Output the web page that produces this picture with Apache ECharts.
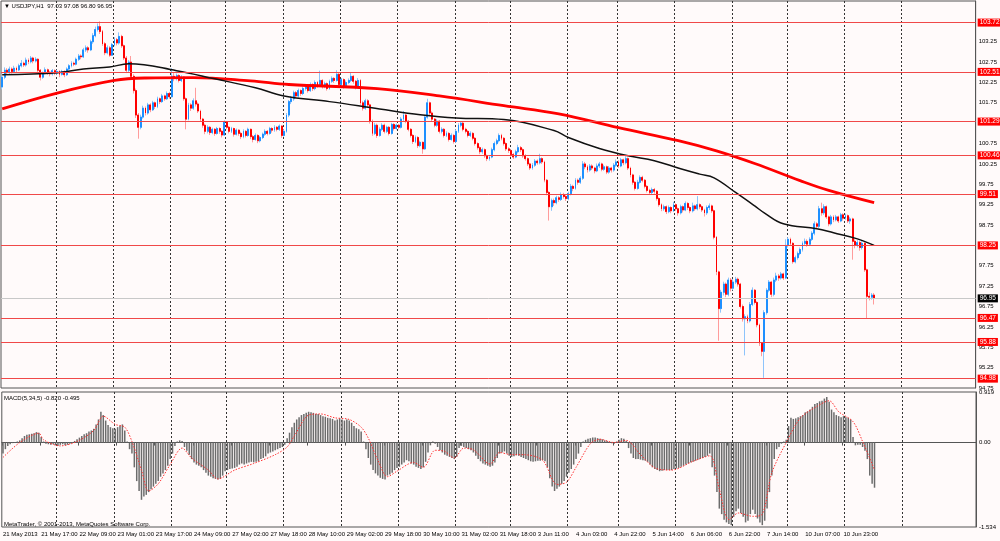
<!DOCTYPE html>
<html>
<head>
<meta charset="utf-8">
<title>USDJPY,H1</title>
<script src="https://cdn.jsdelivr.net/npm/echarts@6/dist/echarts.min.js"></script>
<style>
  html, body { margin: 0; padding: 0; background: #fffafa; }
  #chart { width: 1000px; height: 541px; }
</style>
</head>
<body>
<div id="chart"></div>
<script>
// H1 bars plus empty space on the right, like the terminal's chart shift
const totalBars = 408;

// labels every 16 bars
const tickLabels = [
  "21 May 2013", "21 May 17:00", "22 May 09:00", "23 May 01:00", "23 May 17:00",
  "24 May 09:00", "27 May 02:00", "27 May 18:00", "28 May 10:00", "29 May 02:00",
  "29 May 18:00", "30 May 10:00", "31 May 02:00", "31 May 18:00", "3 Jun 11:00",
  "4 Jun 03:00", "4 Jun 22:00", "5 Jun 14:00", "6 Jun 06:00", "6 Jun 22:00",
  "7 Jun 14:00", "10 Jun 07:00", "10 Jun 23:00"
];

// bar index of each day start (dotted separators)
const dayStarts = [23, 47, 71, 94, 118, 142, 166, 190, 213, 237, 258, 282, 306, 329, 353, 377];

// horizontal levels drawn on the chart
const levels = [103.72, 102.51, 101.29, 100.46, 99.51, 98.25, 96.47, 95.88, 94.98];
const lastPrice = 96.95;

// [open, close, low, high]
const candles = [
  // 0
  [102.14,102.38,102.08,102.42],[102.38,102.55,102.33,102.62],[102.55,102.50,102.44,102.60],[102.50,102.58,102.46,102.64],[102.58,102.52,102.47,102.62],
  [102.52,102.60,102.49,102.66],[102.60,102.56,102.50,102.64],[102.56,102.66,102.53,102.71],[102.66,102.72,102.62,102.80],[102.72,102.68,102.63,102.76],
  // 10
  [102.68,102.80,102.64,102.86],[102.80,102.76,102.70,102.84],[102.76,102.85,102.72,102.90],[102.85,102.78,102.72,102.88],[102.78,102.82,102.74,102.87],
  [102.82,102.55,102.50,102.84],[102.55,102.38,102.30,102.58],[102.38,102.48,102.34,102.52],[102.48,102.56,102.45,102.62],[102.56,102.50,102.44,102.59],
  // 20
  [102.50,102.46,102.40,102.53],[102.46,102.54,102.42,102.58],[102.54,102.48,102.43,102.57],[102.48,102.52,102.44,102.56],[102.52,102.45,102.38,102.55],
  [102.45,102.52,102.42,102.56],[102.52,102.44,102.38,102.55],[102.44,102.58,102.41,102.62],[102.58,102.66,102.55,102.70],[102.66,102.72,102.62,102.77],
  // 30
  [102.72,102.70,102.65,102.76],[102.70,102.82,102.67,102.86],[102.82,102.90,102.78,102.95],[102.90,102.88,102.82,102.94],[102.88,103.05,102.85,103.10],
  [103.05,103.10,103.00,103.16],[103.10,103.05,102.98,103.14],[103.05,103.25,103.02,103.30],[103.25,103.40,103.20,103.46],[103.40,103.55,103.36,103.62],
  // 40
  [103.55,103.62,103.50,103.70],[103.62,103.50,103.44,103.75],[103.50,103.20,103.15,103.54],[103.20,102.98,102.92,103.24],[102.98,103.10,102.94,103.16],
  [103.10,102.92,102.88,103.14],[102.92,103.18,102.90,103.22],[103.18,103.30,103.14,103.36],[103.30,103.22,103.16,103.34],[103.22,103.38,103.18,103.48],
  // 50
  [103.38,103.15,103.10,103.42],[103.15,102.85,102.80,103.18],[102.85,102.55,102.48,102.90],[102.55,102.75,102.50,102.80],[102.75,102.40,102.32,102.90],
  [102.40,102.05,101.98,102.45],[102.05,101.45,101.38,102.10],[101.45,101.15,100.87,101.50],[101.15,101.40,101.10,101.46],[101.40,101.62,101.36,101.68],
  // 60
  [101.62,101.50,101.44,101.66],[101.50,101.70,101.46,101.75],[101.70,101.58,101.52,101.74],[101.58,101.75,101.55,101.80],[101.75,101.66,101.60,101.78],
  [101.66,101.85,101.62,101.90],[101.85,101.78,101.72,101.88],[101.78,101.92,101.75,101.97],[101.92,101.85,101.80,101.95],[101.85,101.98,101.82,102.03],
  // 70
  [101.98,101.90,101.85,102.02],[101.90,102.40,101.88,102.60],[102.40,102.35,102.28,102.48],[102.35,102.42,102.30,102.47],[102.42,102.30,102.25,102.45],
  [102.30,102.38,102.26,102.43],[102.38,101.85,101.80,102.40],[101.85,101.35,101.10,101.88],[101.35,101.70,101.32,101.75],[101.70,101.62,101.55,101.74],
  // 80
  [101.62,101.80,101.58,101.86],[101.80,101.72,101.66,102.12],[101.72,101.55,101.50,101.76],[101.55,101.35,101.30,101.58],[101.35,101.20,101.14,101.38],
  [101.20,101.05,100.98,101.24],[101.05,101.15,101.00,101.20],[101.15,101.02,100.96,101.18],[101.02,101.10,100.98,101.14],[101.10,101.00,100.94,101.13],
  // 90
  [101.00,101.12,100.97,101.16],[101.12,101.05,100.99,101.15],[101.05,100.96,100.90,101.08],[100.96,101.28,100.94,101.32],[101.28,101.15,101.10,101.30],
  [101.15,101.05,101.00,101.18],[101.05,101.12,101.01,101.16],[101.12,100.98,100.92,101.14],[100.98,101.08,100.95,101.12],[101.08,101.00,100.94,101.10],
  // 100
  [101.00,100.92,100.86,101.04],[100.92,101.05,100.88,101.10],[101.05,100.95,100.90,101.08],[100.95,101.10,100.92,101.14],[101.10,100.92,100.86,101.12],
  [100.92,100.85,100.78,100.96],[100.85,100.95,100.82,101.00],[100.95,100.82,100.76,100.98],[100.82,100.90,100.78,100.94],[100.90,100.98,100.86,101.02],
  // 110
  [100.98,101.05,100.94,101.10],[101.05,101.00,100.95,101.08],[101.00,101.12,100.97,101.16],[101.12,101.08,101.02,101.15],[101.08,101.15,101.04,101.20],
  [101.15,101.10,101.05,101.18],[101.10,101.18,101.06,101.22],[101.18,100.95,100.89,101.20],[100.95,101.05,100.92,101.10],[101.05,101.45,101.02,101.50],
  // 120
  [101.45,101.78,101.40,101.82],[101.78,101.85,101.72,101.92],[101.85,102.00,101.80,102.05],[102.00,101.92,101.86,102.04],[101.92,102.05,101.88,102.10],
  [102.05,101.98,101.92,102.08],[101.98,102.10,101.94,102.15],[102.10,102.15,102.05,102.20],[102.15,102.05,102.00,102.18],[102.05,102.20,102.02,102.25],
  // 130
  [102.20,102.10,102.04,102.23],[102.10,102.25,102.06,102.30],[102.25,102.18,102.12,102.28],[102.18,102.30,102.14,102.54],[102.30,102.15,102.10,102.33],
  [102.15,102.22,102.11,102.27],[102.22,102.10,102.05,102.25],[102.10,102.28,102.07,102.32],[102.28,102.35,102.24,102.40],[102.35,102.30,102.24,102.38],
  // 140
  [102.30,102.45,102.27,102.55],[102.45,102.20,102.15,102.48],[102.20,102.32,102.17,102.36],[102.32,102.15,102.10,102.35],[102.15,102.25,102.12,102.30],
  [102.25,102.30,102.21,102.35],[102.30,102.40,102.26,102.50],[102.40,102.28,102.22,102.43],[102.28,102.15,102.08,102.31],[102.15,102.30,102.12,102.36],
  // 150
  [102.30,101.75,101.70,102.33],[101.75,101.62,101.56,101.80],[101.62,101.80,101.58,101.85],[101.80,101.70,101.64,101.84],[101.70,101.30,101.24,101.73],
  [101.30,101.00,100.94,101.34],[101.00,101.20,100.96,101.26],[101.20,100.95,100.89,101.24],[100.95,101.10,100.92,101.15],[101.10,101.20,101.06,101.25],
  // 160
  [101.20,101.05,101.00,101.24],[101.05,101.15,101.01,101.19],[101.15,101.00,100.95,101.18],[101.00,101.22,100.97,101.26],[101.22,101.12,101.07,101.25],
  [101.12,101.20,101.09,101.24],[101.20,101.15,101.10,101.23],[101.15,101.35,101.12,101.40],[101.35,101.45,101.30,101.55],[101.45,101.30,101.25,101.48],
  // 170
  [101.30,101.10,101.05,101.33],[101.10,100.95,100.90,101.13],[100.95,100.80,100.74,100.98],[100.80,100.90,100.76,100.95],[100.90,100.70,100.64,100.93],
  [100.70,100.78,100.66,100.82],[100.78,100.62,100.50,100.80],[100.62,101.40,100.60,101.45],[101.40,101.75,101.36,101.85],[101.75,101.50,101.45,101.78],
  // 180
  [101.50,101.35,101.30,101.54],[101.35,101.20,101.15,101.38],[101.20,101.30,101.16,101.35],[101.30,101.05,101.00,101.33],[101.05,101.10,101.00,101.15],
  [101.10,100.95,100.90,101.13],[100.95,101.00,100.91,101.05],[101.00,100.85,100.80,101.03],[100.85,100.95,100.82,101.00],[100.95,100.80,100.75,100.98],
  // 190
  [100.80,101.05,100.77,101.10],[101.05,101.20,101.01,101.25],[101.20,101.25,101.15,101.30],[101.25,101.10,101.05,101.28],[101.10,101.05,101.00,101.14],
  [101.05,100.95,100.90,101.08],[100.95,101.00,100.91,101.05],[101.00,100.88,100.83,101.03],[100.88,100.75,100.70,100.91],[100.75,100.65,100.60,100.78],
  // 200
  [100.65,100.55,100.49,100.68],[100.55,100.60,100.50,100.65],[100.60,100.45,100.40,100.63],[100.45,100.38,100.32,100.48],[100.38,100.42,100.33,100.47],
  [100.42,100.60,100.39,100.65],[100.60,100.75,100.56,100.80],[100.75,100.82,100.71,100.87],[100.82,100.95,100.78,101.00],[100.95,100.88,100.83,100.99],
  // 210
  [100.88,100.75,100.70,100.91],[100.75,100.62,100.57,100.78],[100.62,100.58,100.52,100.66],[100.58,100.48,100.43,100.61],[100.48,100.42,100.37,100.52],
  [100.42,100.55,100.39,100.60],[100.55,100.65,100.51,100.72],[100.65,100.60,100.54,100.69],[100.60,100.45,100.40,100.63],[100.45,100.38,100.33,100.49],
  // 220
  [100.38,100.25,100.20,100.41],[100.25,100.15,100.10,100.28],[100.15,100.22,100.11,100.27],[100.22,100.32,100.18,100.37],[100.32,100.28,100.23,100.36],
  [100.28,100.38,100.24,100.50],[100.38,100.30,100.25,100.41],[100.30,99.85,99.80,100.33],[99.85,99.55,99.48,99.88],[99.55,99.20,98.86,99.58],
  // 230
  [99.20,99.35,99.10,99.40],[99.35,99.30,99.22,99.40],[99.30,99.42,99.26,99.47],[99.42,99.38,99.32,99.46],[99.38,99.50,99.34,99.55],
  [99.50,99.45,99.40,99.54],[99.45,99.40,99.34,99.49],[99.40,99.52,99.36,99.57],[99.52,99.70,99.48,99.76],[99.70,99.65,99.58,99.74],
  // 240
  [99.65,99.85,99.62,99.90],[99.85,99.80,99.74,99.89],[99.80,99.90,99.76,99.95],[99.90,100.25,99.86,100.32],[100.25,100.18,100.12,100.30],
  [100.18,100.10,100.04,100.22],[100.10,100.20,100.06,100.25],[100.20,100.15,100.10,100.24],[100.15,100.08,100.02,100.18],[100.08,100.20,100.05,100.26],
  // 250
  [100.20,100.25,100.15,100.30],[100.25,100.12,100.07,100.28],[100.12,100.18,100.08,100.23],[100.18,100.05,100.00,100.21],[100.05,100.15,100.01,100.20],
  [100.15,100.10,100.04,100.18],[100.10,100.22,100.06,100.27],[100.22,100.30,100.18,100.36],[100.30,100.20,100.15,100.34],[100.20,100.35,100.17,100.40],
  // 260
  [100.35,100.28,100.22,100.38],[100.28,100.38,100.24,100.45],[100.38,100.15,100.10,100.41],[100.15,99.98,99.92,100.18],[99.98,99.80,99.74,100.01],
  [99.80,99.65,99.60,99.83],[99.65,99.80,99.62,99.86],[99.80,99.92,99.77,99.97],[99.92,99.85,99.80,99.96],[99.85,99.70,99.65,99.88],
  // 270
  [99.70,99.60,99.55,99.73],[99.60,99.55,99.50,99.64],[99.55,99.62,99.51,99.67],[99.62,99.58,99.52,99.66],[99.58,99.40,99.35,99.61],
  [99.40,99.25,99.20,99.43],[99.25,99.15,99.09,99.28],[99.15,99.20,99.10,99.25],[99.20,99.08,99.02,99.23],[99.08,99.18,99.04,99.23],
  // 280
  [99.18,99.10,99.04,99.21],[99.10,99.25,99.07,99.32],[99.25,99.15,99.10,99.28],[99.15,99.05,98.98,99.18],[99.05,99.20,99.01,99.25],
  [99.20,99.12,99.06,99.23],[99.12,99.28,99.09,99.33],[99.28,99.18,99.12,99.31],[99.18,99.10,99.04,99.21],[99.10,99.22,99.06,99.30],
  // 290
  [99.22,99.15,99.10,99.25],[99.15,99.25,99.11,99.46],[99.25,99.20,99.14,99.28],[99.20,99.12,99.07,99.23],[99.12,99.05,98.96,99.15],
  [99.05,99.18,99.00,99.23],[99.18,99.22,99.12,99.28],[99.22,99.10,99.05,99.25],[99.10,98.45,98.40,99.13],[98.45,97.60,97.52,98.48],
  // 300
  [97.60,96.70,95.91,97.63],[96.70,97.10,96.60,97.16],[97.10,97.30,97.02,97.36],[97.30,97.05,96.98,97.34],[97.05,97.40,97.00,97.46],
  [97.40,97.20,97.12,97.45],[97.20,97.35,97.15,97.42],[97.35,97.42,97.30,97.48],[97.42,97.30,97.24,97.46],[97.30,96.75,96.70,97.33],
  // 310
  [96.75,96.45,96.38,96.80],[96.45,96.50,95.55,96.56],[96.50,96.40,96.34,96.55],[96.40,96.80,96.36,96.86],[96.80,97.15,96.76,97.22],
  [97.15,96.85,96.80,97.18],[96.85,96.30,96.24,96.88],[96.30,95.85,95.78,96.33],[95.85,95.65,95.53,95.88],[95.65,96.60,95.00,96.66],
  // 320
  [96.60,97.15,96.55,97.20],[97.15,97.35,97.10,97.40],[97.35,97.05,96.98,97.38],[97.05,97.40,97.00,97.46],[97.40,97.50,97.35,97.58],
  [97.50,97.45,97.38,97.55],[97.45,97.55,97.41,97.60],[97.55,97.45,97.40,97.58],[97.45,98.25,97.42,98.40],[98.25,98.40,98.20,98.45],
  // 330
  [98.40,98.30,98.24,98.44],[98.30,97.85,97.80,98.33],[97.85,97.95,97.81,98.00],[97.95,98.05,97.90,98.10],[98.05,98.15,98.01,98.20],
  [98.15,98.30,98.10,98.35],[98.30,98.35,98.25,98.42],[98.35,98.28,98.22,98.40],[98.28,98.40,98.24,98.45],[98.40,98.55,98.36,98.60],
  // 340
  [98.55,98.78,98.50,98.84],[98.78,98.72,98.66,98.82],[98.72,99.15,98.68,99.22],[99.15,99.05,98.98,99.30],[99.05,99.20,99.00,99.26],
  [99.20,98.95,98.90,99.23],[98.95,98.78,98.72,98.98],[98.78,98.95,98.74,99.00],[98.95,98.88,98.82,98.99],[98.88,98.95,98.84,99.00],
  // 350
  [98.95,98.85,98.80,98.98],[98.85,99.00,98.82,99.05],[99.00,98.92,98.86,99.04],[98.92,98.98,98.88,99.03],[98.98,98.85,98.80,99.01],
  [98.85,98.90,98.78,98.95],[98.90,98.35,97.90,98.93],[98.35,98.25,98.18,98.40],[98.25,98.32,98.20,98.38],[98.32,98.20,98.12,98.36],
  // 360
  [98.20,98.30,98.15,98.35],[98.30,97.65,97.60,98.33],[97.65,97.00,96.45,97.68],[97.00,96.98,96.90,97.10],[96.98,97.03,96.92,97.08],
  [97.03,96.95,96.80,97.08]
];

// moving averages: [bar, price]
const maBlack = [
  [0,102.44],[23,102.49],[34,102.58],[45,102.63],[53,102.71],[73,102.54],[89,102.34],[106,102.12],
  [118,101.92],[137,101.78],[158,101.6],[175,101.46],[190,101.38],[210,101.34],[231,101.07],[237,100.9],
  [250,100.63],[262,100.45],[273,100.33],[284,100.13],[292,100.0],[298,99.91],[307,99.55],[315,99.22],
  [319,99.05],[327,98.78],[341,98.66],[348,98.56],[358,98.41],[365,98.25]
];
const maRed = [
  [0,101.6],[23,101.99],[47,102.3],[60,102.36],[80,102.37],[104,102.29],[120,102.2],[157,102.1],
  [183,101.92],[210,101.68],[233,101.48],[258,101.14],[283,100.82],[299,100.57],[315,100.26],[334,99.84],
  [346,99.6],[365,99.3]
];

// MACD(5,34,5) histogram, one value per bar
const macdHist = [
  -0.2,-0.12,-0.06,-0.03,-0.01,0.01,0.02,0.04,0.08,0.12,            // 0
  0.14,0.15,0.16,0.17,0.19,0.18,0.1,0.02,-0.02,-0.03,               // 10
  -0.04,-0.03,-0.05,-0.06,-0.04,-0.03,-0.05,-0.04,-0.02,0.01,       // 20
  0.03,0.06,0.09,0.12,0.15,0.17,0.2,0.22,0.25,0.33,                 // 30
  0.42,0.56,0.5,0.4,0.32,0.28,0.26,0.25,0.28,0.3,                   // 40
  0.33,0.22,0.02,-0.12,-0.2,-0.45,-0.7,-0.88,-1.04,-0.98,           // 50
  -0.95,-0.9,-0.85,-0.8,-0.75,-0.7,-0.62,-0.56,-0.5,-0.42,          // 60
  -0.3,-0.2,-0.06,0.02,0.04,0.03,-0.08,-0.15,-0.22,-0.3,            // 70
  -0.36,-0.4,-0.42,-0.45,-0.5,-0.55,-0.6,-0.62,-0.65,-0.66,         // 80
  -0.67,-0.66,-0.6,-0.52,-0.5,-0.48,-0.47,-0.46,-0.44,-0.4,         // 90
  -0.38,-0.4,-0.38,-0.36,-0.35,-0.36,-0.35,-0.34,-0.3,-0.28,        // 100
  -0.25,-0.2,-0.18,-0.16,-0.14,-0.12,-0.1,-0.08,-0.04,0.08,         // 110
  0.18,0.28,0.36,0.42,0.46,0.5,0.52,0.54,0.56,0.55,                 // 120
  0.54,0.52,0.52,0.5,0.48,0.47,0.45,0.44,0.43,0.4,                  // 130
  0.42,0.44,0.42,0.4,0.42,0.4,0.36,0.3,0.26,0.24,                   // 140
  0.2,0.02,-0.12,-0.28,-0.4,-0.5,-0.56,-0.6,-0.64,-0.66,            // 150
  -0.67,-0.6,-0.58,-0.55,-0.5,-0.46,-0.44,-0.4,-0.36,-0.32,         // 160
  -0.34,-0.38,-0.4,-0.44,-0.46,-0.48,-0.45,-0.35,-0.18,-0.05,       // 170
  0.02,-0.02,-0.08,-0.14,-0.18,-0.22,-0.24,-0.26,-0.28,-0.3,        // 180
  -0.26,-0.1,-0.06,-0.08,-0.1,-0.12,-0.14,-0.18,-0.24,-0.3,         // 190
  -0.34,-0.38,-0.4,-0.42,-0.44,-0.42,-0.36,-0.28,-0.2,-0.18,        // 200
  -0.16,-0.2,-0.24,-0.26,-0.25,-0.23,-0.24,-0.26,-0.28,-0.3,        // 210
  -0.32,-0.34,-0.35,-0.34,-0.33,-0.33,-0.32,-0.34,-0.45,-0.65,      // 220
  -0.8,-0.88,-0.84,-0.8,-0.75,-0.7,-0.62,-0.55,-0.48,-0.4,          // 230
  -0.3,-0.2,-0.08,0.02,0.05,0.07,0.08,0.09,0.09,0.08,               // 240
  0.07,0.06,0.04,0.03,0.01,-0.01,-0.02,0.02,0.05,0.08,              // 250
  0.07,0.03,-0.1,-0.2,-0.28,-0.3,-0.3,-0.31,-0.32,-0.33,            // 260
  -0.35,-0.4,-0.45,-0.48,-0.5,-0.52,-0.51,-0.5,-0.5,-0.5,           // 270
  -0.5,-0.48,-0.47,-0.46,-0.44,-0.42,-0.4,-0.38,-0.36,-0.35,        // 280
  -0.33,-0.31,-0.3,-0.28,-0.26,-0.24,-0.2,-0.45,-0.6,-0.9,          // 290
  -1.2,-1.3,-1.4,-1.45,-1.48,-1.5,-1.35,-1.25,-1.2,-1.28,           // 300
  -1.35,-1.45,-1.42,-1.3,-1.22,-1.3,-1.38,-1.45,-1.5,-1.42,         // 310
  -1.2,-0.9,-0.6,-0.3,-0.12,-0.08,-0.02,0.02,0.05,0.3,              // 320
  0.45,0.43,0.44,0.46,0.48,0.5,0.55,0.57,0.6,0.65,                  // 330
  0.7,0.72,0.75,0.76,0.8,0.83,0.74,0.6,0.55,0.5,                    // 340
  0.48,0.46,0.48,0.46,0.45,0.42,0.1,-0.05,-0.04,-0.04,              // 350
  -0.08,-0.15,-0.3,-0.6,-0.75,-0.82                                 // 360
];

// signal line: [bar, value]
const macdSignal = [
  [0,-0.27],[7,0],[15,0.17],[17,0.05],[24,-0.06],[31,0.02],[38,0.22],[42,0.48],[47,0.33],[51,0.28],
  [54,0.02],[58,-0.5],[61,-0.88],[65,-0.75],[70,-0.4],[75,-0.1],[79,-0.28],[86,-0.5],[90,-0.66],[97,-0.5],
  [105,-0.38],[114,-0.22],[119,-0.08],[122,0.12],[128,0.5],[133,0.52],[139,0.45],[145,0.42],[150,0.28],[153,0.08],
  [157,-0.32],[161,-0.62],[165,-0.52],[172,-0.36],[176,-0.45],[181,-0.14],[185,-0.16],[189,-0.28],[193,-0.1],[197,-0.13],
  [204,-0.39],[208,-0.18],[213,-0.22],[218,-0.22],[226,-0.32],[232,-0.76],[236,-0.72],[240,-0.45],[246,-0.02],[250,0.06],
  [256,0.0],[261,0.04],[267,-0.22],[273,-0.46],[280,-0.5],[289,-0.34],[296,-0.24],[300,-0.85],[304,-1.4],[308,-1.28],
  [314,-1.34],[318,-1.3],[322,-0.55],[328,0.0],[334,0.45],[341,0.66],[346,0.76],[350,0.56],[356,0.38],[360,0.02],
  [365,-0.495]
];

const FONT = "Liberation Sans";
const FS = 6;
const categories = Array.from({ length: totalBars }, (_, i) => String(i));
// solid bodies drawn over the lighter wicks
const bodies = candles.map(d => [d[0], d[1], Math.min(d[0], d[1]), Math.max(d[0], d[1])]);

const isDay = i => dayStarts.includes(i);
const isTick = i => i % 16 === 0 && i / 16 < tickLabels.length;
const dotted = { show: true, interval: isDay, lineStyle: { color: "#333", type: [2, 2], width: 1 } };
const marked = levels.concat([lastPrice]);

const chart = echarts.init(document.getElementById("chart"));
chart.setOption({
  animation: false,
  backgroundColor: "#fffafa",
  textStyle: { fontFamily: FONT },
  grid: [
    { left: 1, right: 24, top: 1, height: 387, show: true, borderColor: "#555", borderWidth: 1 },
    { left: 1, right: 24, top: 392, height: 135, show: true, borderColor: "#555", borderWidth: 1 }
  ],
  xAxis: [
    {
      type: "category", gridIndex: 0, data: categories, boundaryGap: true,
      axisLine: { show: false }, axisTick: { show: false }, axisLabel: { show: false },
      splitLine: dotted
    },
    {
      type: "category", gridIndex: 1, data: categories, boundaryGap: true,
      axisLine: { show: true, lineStyle: { color: "#555" } },
      axisTick: { show: true, interval: isTick, length: 3, lineStyle: { color: "#555" } },
      axisLabel: {
        interval: isTick, align: "left", margin: 4, fontSize: FS, color: "#000", fontFamily: FONT,
        showMinLabel: true, showMaxLabel: true, hideOverlap: false,
        formatter: (v, i) => tickLabels[i / 16] || ""
      },
      splitLine: dotted
    }
  ],
  yAxis: [
    {
      type: "value", gridIndex: 0, position: "right", min: 94.75, max: 104.25, interval: 0.25,
      axisLine: { show: true, lineStyle: { color: "#555" } },
      axisTick: { show: false },
      splitLine: { show: false },
      axisLabel: {
        margin: 3, fontSize: FS, color: "#000", fontFamily: FONT,
        formatter: v => {
          if (Math.round(v * 4) % 2 === 0 || v > 104) return "";
          if (marked.some(l => Math.abs(l - v) < 0.08)) return "";
          return v.toFixed(2);
        }
      }
    },
    {
      type: "value", gridIndex: 1, position: "right", min: -1.534, max: 0.919,
      axisLine: { show: true, lineStyle: { color: "#555" } },
      axisTick: { show: false },
      splitLine: { show: false },
      axisLabel: {
        margin: 3, fontSize: FS, color: "#000", fontFamily: FONT, showMinLabel: true, showMaxLabel: true,
        formatter: v => {
          if (Math.abs(v) < 1e-9) return "0.00";
          if (Math.abs(v - 0.919) < 1e-6 || Math.abs(v + 1.534) < 1e-6) return v.toFixed(3);
          return "";
        }
      }
    }
  ],
  series: [
    {
      name: "wicks", type: "candlestick", xAxisIndex: 0, yAxisIndex: 0, data: candles, barWidth: 1.4,
      itemStyle: { color: "#8ec4fb", color0: "#ff9c9c", borderColor: "#8ec4fb", borderColor0: "#ff9c9c", borderWidth: 1 },
      markLine: {
        silent: true, symbol: ["none", "none"], animation: false,
        lineStyle: { color: "#f04848", width: 1, type: "solid" },
        label: {
          show: true, position: "end", distance: 2, fontSize: 6.5, fontFamily: FONT, color: "#fff",
          backgroundColor: "#ff0000", padding: [1, 2, 0, 2], formatter: p => p.value.toFixed(2)
        },
        data: levels.map(v => ({ yAxis: v })).concat([{
          yAxis: lastPrice,
          lineStyle: { color: "#c8c8c8", width: 1, type: "solid" },
          label: { backgroundColor: "#000", color: "#fff" }
        }])
      }
    },
    {
      name: "bodies", type: "candlestick", xAxisIndex: 0, yAxisIndex: 0, data: bodies, barWidth: 1.4,
      itemStyle: { color: "#1e90ff", color0: "#ff0000", borderColor: "#1e90ff", borderColor0: "#ff0000", borderWidth: 1 }
    },
    {
      name: "MA red", type: "line", xAxisIndex: 0, yAxisIndex: 0, data: maRed, smooth: 0.4,
      showSymbol: false, lineStyle: { color: "#ff0000", width: 2.8 }, z: 3
    },
    {
      name: "MA black", type: "line", xAxisIndex: 0, yAxisIndex: 0, data: maBlack, smooth: 0.4,
      showSymbol: false, lineStyle: { color: "#111", width: 1.5 }, z: 3
    },
    {
      name: "MACD", type: "bar", xAxisIndex: 1, yAxisIndex: 1, data: macdHist, barWidth: 1.5,
      itemStyle: { color: "#6c6c6c" }
    },
    {
      name: "Signal", type: "line", xAxisIndex: 1, yAxisIndex: 1, data: macdSignal, smooth: 0.3,
      showSymbol: false, lineStyle: { color: "#ff3030", width: 1, type: [1.5, 1.5] }, z: 3
    }
  ],
  graphic: [
    { type: "text", left: 4, top: 3, style: { text: "\u25BC USDJPY,H1  97.03 97.08 96.80 96.95", fontSize: FS, fill: "#000", fontFamily: FONT } },
    { type: "text", left: 4, top: 395, style: { text: "MACD(5,34,5) -0.820 -0.495", fontSize: FS, fill: "#000", fontFamily: FONT } },
    { type: "text", left: 4, top: 521, style: { text: "MetaTrader, \u00A9 2001-2013, MetaQuotes Software Corp.", fontSize: FS, fill: "#000", fontFamily: FONT } }
  ]
});
</script>
</body>
</html>
